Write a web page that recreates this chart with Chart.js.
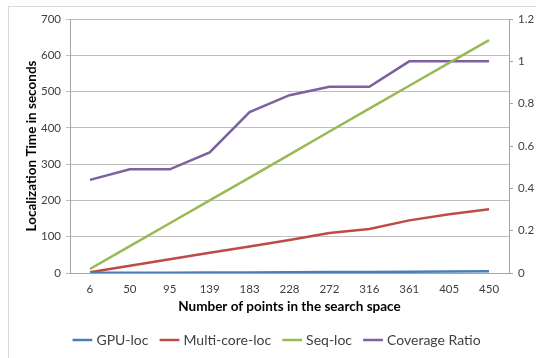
<!DOCTYPE html>
<html>
<head>
<meta charset="utf-8">
<script src="https://cdn.jsdelivr.net/npm/chart.js@4.4.1/dist/chart.umd.min.js"></script>
<style>
  html, body { margin: 0; padding: 0; background: #fff; overflow: hidden; }
  #frame { position: absolute; left: 8px; top: 6px; width: 600px; height: 400px; border: 1px solid #d9d9d9; }
  #wrap { position: absolute; left: 0; top: 0; width: 536px; height: 358px; }
</style>
</head>
<body>
<div id="frame"></div>
<div id="wrap"><canvas id="chart"></canvas></div>
<script>
const labels = ['6', '50', '95', '139', '183', '228', '272', '316', '361', '405', '450'];
const gpu_loc = [0.5, 0.8, 1, 1.2, 1.5, 2, 2.5, 3, 3.5, 4, 4.5];
const multi_core_loc = [2, 20, 38, 56, 73, 91, 110, 121, 145, 162, 176];
const seq_loc = [11, 74, 137, 200, 263, 326, 390, 453, 516, 579, 642];
const coverage_ratio = [0.44, 0.49, 0.49, 0.57, 0.76, 0.84, 0.88, 0.88, 1, 1, 1];

const fontName = 'Lato';
const tickColor = '#404040';

var ctx = document.getElementById('chart').getContext('2d');

var chart = new Chart(ctx, {
  type: 'line',
  data: {
    labels: labels,
    datasets: [{
      label: 'GPU-loc',
      borderColor: '#4A7EBB',
      backgroundColor: '#4A7EBB',
      borderWidth: 2.5,
      radius: 0,
      data: gpu_loc,
      yAxisID: 'y'
    },
    {
      label: 'Multi-core-loc',
      borderColor: '#BE4B48',
      backgroundColor: '#BE4B48',
      borderWidth: 2.5,
      radius: 0,
      data: multi_core_loc,
      yAxisID: 'y'
    },
    {
      label: 'Seq-loc',
      borderColor: '#98B954',
      backgroundColor: '#98B954',
      borderWidth: 2.5,
      radius: 0,
      data: seq_loc,
      yAxisID: 'y'
    },
    {
      label: 'Coverage Ratio',
      borderColor: '#7D60A0',
      backgroundColor: '#7D60A0',
      borderWidth: 2.5,
      radius: 0,
      data: coverage_ratio,
      yAxisID: 'y1'
    }]
  },
  options: {
    animation: false,
    responsive: true,
    maintainAspectRatio: false,
    layout: {
      padding: { left: 20, right: 0, top: 19, bottom: 1 }
    },
    plugins: {
      tooltip: { enabled: false },
      legend: {
        position: 'bottom',
        labels: {
          usePointStyle: true,
          pointStyle: 'line',
          boxWidth: 20,
          padding: 14,
          color: '#404040',
          font: { family: fontName, size: 14 }
        }
      }
    },
    scales: {
      x: {
        offset: true,
        grid: {
          display: false,
          drawTicks: false
        },
        border: { color: '#a6a6a6' },
        ticks: {
          color: tickColor,
          padding: 9,
          maxRotation: 0,
          font: { family: fontName, size: 11.5 }
        },
        title: {
          display: true,
          text: 'Number of points in the search space',
          color: '#000',
          padding: { top: 0, bottom: 4 },
          font: { family: fontName, size: 13.5, weight: 'bold' }
        },
        afterFit: function(scale) {
          scale.height = 46;
        }
      },
      y: {
        type: 'linear',
        position: 'left',
        min: 0,
        max: 700,
        ticks: {
          stepSize: 100,
          color: tickColor,
          padding: 5,
          font: { family: fontName, size: 11.5 }
        },
        grid: {
          color: '#bfbfbf',
          tickLength: 4
        },
        border: { color: '#a6a6a6' },
        title: {
          display: true,
          text: 'Localization Time in seconds',
          color: '#000',
          padding: 4,
          font: { family: fontName, size: 13.5, weight: 'bold' }
        },
        afterFit: function(scale) {
          scale.width = 50;
        }
      },
      y1: {
        type: 'linear',
        position: 'right',
        min: 0,
        max: 1.2,
        ticks: {
          stepSize: 0.2,
          color: tickColor,
          padding: 5,
          font: { family: fontName, size: 11.5 },
          callback: function(value) {
            return Math.round(value * 10) / 10;
          }
        },
        grid: {
          drawOnChartArea: false,
          color: '#a6a6a6',
          tickLength: 4
        },
        border: { color: '#a6a6a6' },
        afterFit: function(scale) {
          scale.width = 27;
        }
      }
    }
  }
});
</script>
</body>
</html>
